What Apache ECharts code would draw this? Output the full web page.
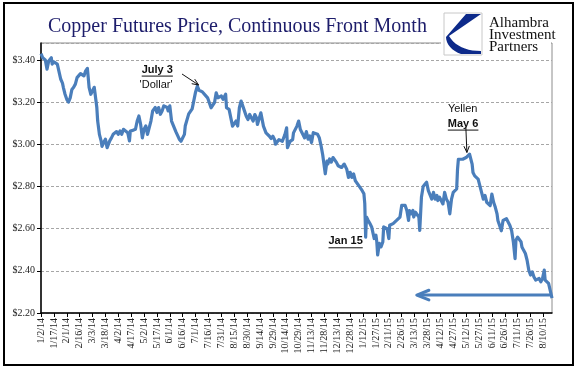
<!DOCTYPE html>
<html><head><meta charset="utf-8">
<script src="https://cdn.jsdelivr.net/npm/echarts@6/dist/echarts.min.js"></script>
<style>html,body{margin:0;padding:0;background:#fff}#c{width:577px;height:386px}</style>
</head><body><div id="c"></div>
<script>
// x values: calendar days after 2014-01-02 (day 0 = 1/2/14)
const dayOffsets = [
 0,2,5,7,9,12,13,15,17,19,21,23,25,26,28,30,32,34,36,38,40,42,44,46,48,50,52,54,55,56,58,60,62,64,65,66,68,70,71,73,75,77,78,80,82,84,86,88,90,92,94,96,98,101,103,104,107,110,112,114,116,118,120,122,124,126,128,130,132,133,135,137,139,141,143,145,147,148,150,
 152,157,161,163,167,168,172,176,178,180,182,184,186,188,190,194,198,202,204,206,210,212,215,216,219,221,223,225,227,229,231,233,235,237,239,241,243,245,247,249,251,252,254,256,258,259,260,262,264,266,268,270,272,273,275,277,279,281,284,286,287,289,290,293,294,296,298,300,302,304,
 307,309,311,313,315,317,319,322,324,326,328,331,333,334,336,338,340,342,344,346,348,350,353,355,356,358,360,362,364,366,368,370,372,374,376,377,378,379,381,383,385,387,388,390,391,392,394,396,398,399,401,403,405,406,408,410,412,414,416,418,420,422,424,426,428,429,431,433,434,436,438,440,441,443,445,
 447,449,451,453,455,457,459,461,462,464,466,468,470,472,474,476,478,480,482,484,485,486,488,491,493,495,497,499,500,502,503,505,507,509,511,513,515,517,519,521,523,525,527,529,531,532,534,536,538,540,542,544,546,548,550,552,553,555,557,559,560,562,564,566,568,570,572,574,576,578,580,582,584,586,587,589,591,593,595
];
const prices = [
 3.43,3.41,3.40,3.356,3.395,3.41,3.38,3.39,3.395,3.38,3.38,3.308,3.29,3.27,3.237,3.213,3.20,3.22,3.26,3.27,3.285,3.316,3.313,3.335,3.34,3.324,3.348,3.36,3.316,3.27,3.237,3.253,3.27,3.277,3.174,3.11,3.047,3.016,2.99,3.008,3.024,2.984,2.976,3.016,3.03,3.047,3.04,3.06,3.047,3.063,3.047,3.071,3.063,3.055,3.016,3.063,3.066,3.071,3.11,3.134,3.095,3.03,3.071,3.087,3.047,3.055,3.11,3.158,3.166,3.174,3.15,3.174,3.142,3.158,3.182,3.19,3.174,3.158,3.182,
 3.11,3.06,3.024,3.014,3.047,3.088,3.144,3.168,3.208,3.248,3.275,3.256,3.264,3.248,3.252,3.22,3.173,3.197,3.244,3.22,3.229,3.213,3.237,3.173,3.165,3.165,3.086,3.086,3.11,3.086,3.173,3.205,3.213,3.157,3.133,3.117,3.141,3.133,3.11,3.141,3.125,3.094,3.086,3.149,3.152,3.086,3.078,3.054,3.046,3.038,3.027,3.038,3.022,3.0,2.992,3.022,3.03,3.014,3.046,3.078,2.984,2.976,3.014,3.022,3.054,3.062,3.086,3.11,3.07,3.07,
 3.03,3.06,3.024,3.04,3.008,3.055,3.058,3.047,3.031,2.995,2.95,2.86,2.92,2.906,2.93,2.915,2.937,2.945,2.914,2.898,2.905,2.89,2.906,2.898,2.882,2.843,2.867,2.843,2.859,2.827,2.82,2.804,2.796,2.78,2.765,2.718,2.56,2.655,2.639,2.624,2.608,2.616,2.553,2.569,2.537,2.475,2.53,2.514,2.537,2.608,2.616,2.6,2.553,2.616,2.608,2.624,2.616,2.639,2.631,2.655,2.71,2.718,2.71,2.686,2.639,2.686,2.67,2.686,2.655,2.678,2.686,2.655,2.592,2.75,2.80,
 2.81,2.82,2.78,2.788,2.74,2.772,2.74,2.757,2.733,2.749,2.74,2.717,2.772,2.74,2.725,2.67,2.74,2.772,2.78,2.788,2.882,2.929,2.925,2.929,2.921,2.937,2.945,2.953,2.945,2.906,2.866,2.85,2.858,2.835,2.843,2.772,2.74,2.757,2.725,2.733,2.709,2.764,2.725,2.701,2.67,2.639,2.615,2.59,2.639,2.647,2.647,2.639,2.615,2.59,2.537,2.458,2.545,2.56,2.552,2.537,2.513,2.497,2.482,2.45,2.403,2.38,2.395,2.371,2.356,2.356,2.364,2.348,2.364,2.403,2.356,2.364,2.34,2.34,2.27
];
const tickLabels = ['1/2/14','1/17/14','2/1/14','2/16/14','3/3/14','3/18/14','4/2/14','4/17/14','5/2/14','5/17/14','6/1/14','6/16/14','7/1/14','7/16/14','7/31/14','8/15/14','8/30/14','9/14/14','9/29/14','10/14/14','10/29/14','11/13/14','11/28/14','12/13/14','12/28/14','1/12/15','1/27/15','2/11/15','2/26/15','3/13/15','3/28/15','4/12/15','4/27/15','5/12/15','5/27/15','6/11/15','6/26/15','7/11/15','7/26/15','8/10/15'];
const titleText = 'Copper Futures Price, Continuous Front Month';
const logoLines = ['Alhambra','Investment','Partners'];
// annotations anchored in data space [day, price]
const notes = [
  {text:'July 3', at:[135.4,3.354], bold:true, underline:true},
  {text:"'Dollar'", at:[134,3.283], bold:false, underline:false},
  {text:'Yellen', at:[491,3.169], bold:false, underline:false},
  {text:'May 6', at:[491.5,3.098], bold:true, underline:true},
  {text:'Jan 15', at:[354.7,2.540], bold:true, underline:true}
];
const pointers = [
  {from:[164.2,3.333], to:[183.5,3.281]},
  {from:[494.7,3.079], to:[495.9,2.961]}
];
const returnArrow = {fromDay:595, toDay:437.6, price:2.285};

const LINE = '#4a7ebb';
const chart = echarts.init(document.getElementById('c'), null, {renderer:'canvas'});
chart.setOption({
  animation:false,
  backgroundColor:'#fff',
  grid:{left:41, top:43, width:511, height:270, show:true, borderColor:'#8c8c8c', borderWidth:1},
  xAxis:{type:'value', min:0, max:595, interval:15,
    axisLine:{lineStyle:{color:'#000', width:1.5}},
    axisTick:{show:true, length:4, lineStyle:{color:'#000'}},
    splitLine:{show:false},
    axisLabel:{rotate:90, fontSize:10, fontFamily:'Liberation Serif', color:'#222', margin:5, showMaxLabel:false,
      formatter:function(v){const i=Math.round(v/15); return (Math.abs(v-i*15)<0.01 && tickLabels[i]) ? tickLabels[i] : '';}}
  },
  yAxis:{type:'value', min:2.2, max:3.48, interval:0.2,
    axisLine:{show:true, lineStyle:{color:'#000', width:1.5}},
    axisTick:{show:true, length:4, lineStyle:{color:'#000'}},
    splitLine:{show:true, lineStyle:{color:'#a6a6a6', type:[3,2], width:1}},
    axisLabel:{fontSize:10, fontFamily:'Liberation Serif', color:'#222', margin:6, showMaxLabel:false,
      formatter:function(v){return '$' + v.toFixed(2);}}
  },
  series:[{type:'line', showSymbol:false, symbol:'none',
    lineStyle:{color:LINE, width:3.2, join:'round'},
    data: dayOffsets.map((d,i)=>[d, prices[i]])}]
});

const ctx = document.createElement('canvas').getContext('2d');
function textW(t, font){ctx.font = font; return ctx.measureText(t).width;}
const px = p => chart.convertToPixel({gridIndex:0}, p);
function cubic(p0,p1,p2,p3,n){
  const out=[];
  for(let i=1;i<=n;i++){const t=i/n,u=1-t;
    out.push([u*u*u*p0[0]+3*u*u*t*p1[0]+3*u*t*t*p2[0]+t*t*t*p3[0], u*u*u*p0[1]+3*u*u*t*p1[1]+3*u*t*t*p2[1]+t*t*t*p3[1]]);}
  return out;
}
const g = [];
// outer frame
g.push({type:'rect', shape:{x:4,y:3,width:569,height:362}, style:{fill:'none', stroke:'#000', lineWidth:2}, z:100});
// title
g.push({type:'text', x:48, y:27, style:{text:titleText, font:'20px "Liberation Serif"', fill:'#1d1d6b', verticalAlign:'middle'}, z:100});
// logo
g.push({type:'rect', shape:{x:441,y:8,width:110,height:38}, style:{fill:'#fff'}, z:90});
g.push({type:'rect', shape:{x:444,y:13,width:38,height:42}, style:{fill:'#fff', stroke:'#c8c8c8', lineWidth:1}, z:95});
{
  const pts = [[466,14],[481,14],[449,36]]
    .concat(cubic([449,36],[455,46],[466,51],[481,51],10))
    .concat([[481,54],[461,54]])
    .concat(cubic([461,54],[452,51],[446,44],[446,37],8));
  g.push({type:'polygon', shape:{points:pts}, style:{fill:'#0d2a8a'}, z:96});
}
logoLines.forEach((t,i)=>{
  g.push({type:'text', x:489, y:23 + i*12, style:{text:t, font:'15px "Liberation Serif"', fill:'#111', verticalAlign:'middle'}, z:100});
});
// notes
notes.forEach(n=>{
  const p = px(n.at);
  const font = (n.bold?'bold ':'') + '11px "Liberation Sans"';
  g.push({type:'text', x:p[0], y:p[1], style:{text:n.text, font:font, fill:'#111', align:'center', verticalAlign:'middle'}, z:100});
  if(n.underline){
    const w = textW(n.text, font);
    g.push({type:'line', shape:{x1:p[0]-w/2, y1:p[1]+6.5, x2:p[0]+w/2, y2:p[1]+6.5}, style:{stroke:'#111', lineWidth:1}, z:100});
  }
});
function head(tip, from, len, spread){
  const a = Math.atan2(from[1]-tip[1], from[0]-tip[0]);
  return [[tip[0]+len*Math.cos(a+spread), tip[1]+len*Math.sin(a+spread)], tip, [tip[0]+len*Math.cos(a-spread), tip[1]+len*Math.sin(a-spread)]];
}
pointers.forEach(pt=>{
  const a = px(pt.from), b = px(pt.to);
  g.push({type:'line', shape:{x1:a[0],y1:a[1],x2:b[0],y2:b[1]}, style:{stroke:'#111', lineWidth:1}, z:100});
  g.push({type:'polyline', shape:{points:head(b,a,7,0.4)}, style:{stroke:'#111', lineWidth:1, fill:'none'}, z:100});
});
{
  const a = px([returnArrow.fromDay, returnArrow.price]), b = px([returnArrow.toDay, returnArrow.price]);
  g.push({type:'line', shape:{x1:a[0],y1:a[1],x2:b[0]+1,y2:b[1]}, style:{stroke:LINE, lineWidth:3}, z:100});
  g.push({type:'polyline', shape:{points:head(b,a,13,0.38)}, style:{stroke:LINE, lineWidth:3, fill:'none', lineCap:'round', lineJoin:'round'}, z:100});
}
chart.setOption({graphic:g});
</script></body></html>
